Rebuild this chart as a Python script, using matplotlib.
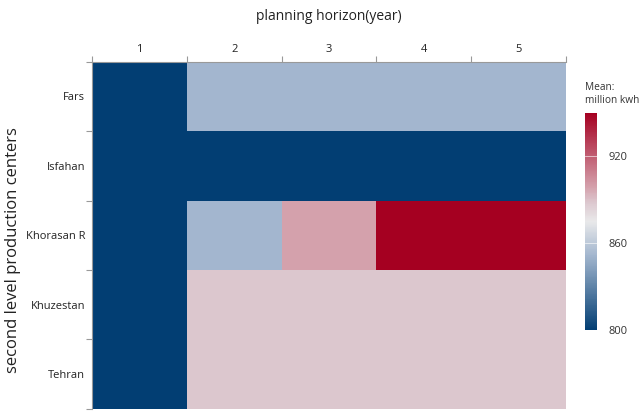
import numpy as np
import matplotlib.pyplot as plt
from matplotlib.colors import LinearSegmentedColormap, Normalize

# data
years = ["1", "2", "3", "4", "5"]
centers = ["Fars", "Isfahan", "Khorasan R", "Khuzestan", "Tehran"]
fars = [800, 852, 852, 852, 852]
isfahan = [800, 800, 800, 800, 800]
khorasan = [800, 852, 899, 950, 950]
khuzestan = [800, 888, 888, 888, 888]
tehran = [800, 888, 888, 888, 888]
cbar_ticks = [800, 860, 920]

values = np.array([fars, isfahan, khorasan, khuzestan, tehran], dtype=float)

plt.rcParams['font.family'] = ['Open Sans', 'DejaVu Sans']

vmin, vmax = 800, 950
stops = [(800, "#023e73"), (852, "#a4b7cf"), (875, "#e9e9ea"),
         (888, "#dcc8cf"), (899, "#d4a0ab"), (950, "#a50021")]
cmap = LinearSegmentedColormap.from_list(
    "mean", [((v - vmin) / (vmax - vmin), c) for v, c in stops])
norm = Normalize(vmin=vmin, vmax=vmax)

fig = plt.figure(figsize=(6.4, 4.12), dpi=100)
ax = fig.add_axes([0.144, 0.008, 0.740, 0.842])
mesh = ax.pcolormesh(np.arange(len(years) + 1), np.arange(len(centers) + 1),
                     values, cmap=cmap, norm=norm)
ax.set_xlim(0, len(years))
ax.set_ylim(len(centers), 0)

# ticks at cell edges, labels at cell centres
ax.xaxis.tick_top()
ax.set_xticks(np.arange(len(years) + 1))
ax.set_xticklabels([])
ax.set_xticks(np.arange(len(years)) + 0.5, minor=True)
ax.set_xticklabels(years, minor=True, fontsize=8, color="#222222")
ax.set_yticks(np.arange(len(centers) + 1))
ax.set_yticklabels([])
ax.set_yticks(np.arange(len(centers)) + 0.5, minor=True)
ax.set_yticklabels(centers, minor=True, fontsize=8, color="#222222")
ax.tick_params(which="major", length=4, color="#999999", width=0.8)
ax.tick_params(which="minor", length=0, pad=5)
ax.tick_params(axis="x", which="minor", pad=5)
for side in ["right", "bottom"]:
    ax.spines[side].set_visible(False)
for side in ["top", "left"]:
    ax.spines[side].set_color("#999999")
    ax.spines[side].set_linewidth(0.8)

ax.set_title("planning horizon(year)", fontsize=10, color="#222222", pad=30)
fig.text(0.02, 0.393, "second level production centers", fontsize=12,
         color="#222222", rotation=90, ha="center", va="center")

cax = fig.add_axes([0.914, 0.199, 0.019, 0.527])
cb = fig.colorbar(mesh, cax=cax, ticks=cbar_ticks)
cb.outline.set_visible(False)
cax.tick_params(length=0, labelsize=8, pad=8, labelcolor="#333333")
for t in cbar_ticks[1:]:
    cax.axhline(t, color="white", linewidth=0.6, alpha=0.7)
cax.text(0.0, 1.03, "Mean:\nmillion kwh", transform=cax.transAxes,
         fontsize=7.3, color="#333333", ha="left", va="bottom", linespacing=1.3)

fig.savefig("out.png", dpi=100)
